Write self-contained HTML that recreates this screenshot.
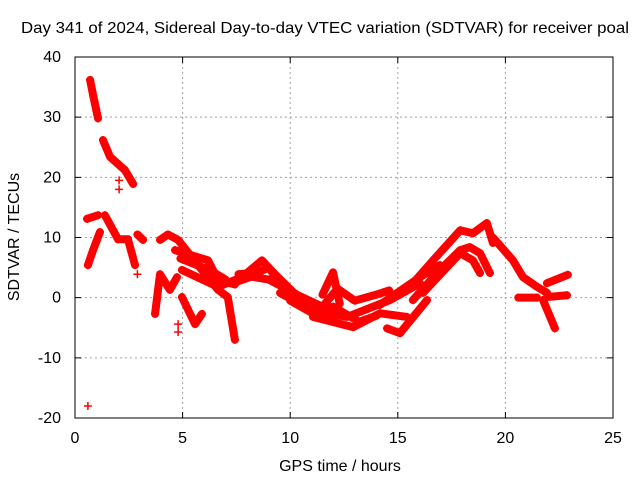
<!DOCTYPE html>
<html><head><meta charset="utf-8"><style>
html,body{margin:0;padding:0;background:#fff}
svg text{font-family:"Liberation Sans",sans-serif;font-size:16px;fill:#000}
</style></head><body>
<svg id="chart" width="640" height="480" xmlns="http://www.w3.org/2000/svg">
<text x="325" y="33" text-anchor="middle" textLength="608" lengthAdjust="spacingAndGlyphs">Day 341 of 2024, Sidereal Day-to-day VTEC variation (SDTVAR) for receiver poal</text>
<text x="340" y="471" text-anchor="middle">GPS time / hours</text>
<text transform="translate(19,237) rotate(-90)" text-anchor="middle">SDTVAR / TECUs</text>
<g id="grid"></g>
<g id="ticks"></g>
<g id="series"></g>
<rect x="75" y="57" width="538" height="361" fill="none" stroke="#000" stroke-width="1"/>
</svg>
<script>
const xTicks=[0,5,10,15,20,25];
const yTicks=[-20,-10,0,10,20,30,40];
// tracks: [hour, SDTVAR]
const trackA=[[0.7,36.2],[0.85,33.5],[1.07,29.8]];
const trackB=[[1.3,26.2],[1.63,23.4],[2.32,21.2],[2.7,18.9]];
const trackC=[[0.6,5.4],[0.85,8.0],[1.16,10.9]];
const trackD=[[0.56,13.1],[1.07,13.7]];
const trackE=[[1.39,13.7],[2.0,9.7],[2.46,9.7],[2.79,5.4]];
const trackE2=[[2.9,10.5],[3.16,9.6]];
const trackF=[[3.72,-2.7],[3.95,3.9],[4.41,1.3],[4.74,3.4]];
const trackG=[[3.95,9.6],[4.32,10.5],[4.79,9.6],[5.44,6.7],[5.9,4.6],[6.65,1.3],[7.1,0.1],[7.43,-7]];
const trackH=[[4.65,7.9],[6.18,6.2],[6.65,2.9],[7.43,2.2]];
const trackH2=[[4.9,6.5],[5.6,5.5],[6.3,4.5],[7.0,3.0]];
const trackI=[[4.97,0.1],[5.58,-4.4],[5.9,-2.7]];
const trackJ=[[4.97,4.6],[6.65,1.8],[7.76,3.4],[8.69,6.2],[9.29,3.9],[10.69,-1.0]];
const trackJ2=[[7.6,3.9],[8.5,4.2],[9.0,5.0],[9.5,2.5],[10.3,0.5],[11.5,-1.5],[12.2,1.5],[13.0,-0.5],[14.0,0.5],[14.6,1.2]];
const trackJ3=[[10.0,-0.5],[11.0,-2.5],[12.0,-1.5],[13.2,-4.0],[14.0,-3.0]];
const trackJ4=[[7.4,2.5],[8.2,3.5],[9.0,3.0],[9.8,1.5],[10.5,0.0]];
const trackK=[[11.5,0.5],[11.99,4.2],[12.3,-1.0]];
const trackL1=[[9.53,0.8],[10.92,-2.0],[12.64,-3.2],[14.64,-0.4],[16.03,2.4]];
const trackL2=[[11.06,-3.2],[12.92,-4.9],[14.17,-2.6],[15.43,-3.2]];
const trackL3=[[14.5,-5.1],[15.1,-5.9],[16.36,-0.4]];
const trackR1=[[15.43,1.3],[16.64,6.2],[17.9,11.2],[18.49,10.7],[19.14,12.4],[19.42,9.1]];
const trackR2=[[15.7,-0.4],[16.96,4.6],[17.9,7.9],[18.35,8.4],[18.82,7.4],[19.28,4.1]];
const trackR3=[[16.17,0.8],[17.29,5.1],[17.9,7.4],[18.49,6.2],[18.82,4.1]];
const trackR4=[[14.17,-1.2],[16.03,3.4],[16.96,5.4]];
const trackS=[[19.42,10.0],[20.35,6.2],[20.82,3.4],[21.47,1.8],[21.93,0.8]];
const trackS2=[[20.6,0.0],[21.47,0.0]];
const trackS3=[[21.75,-0.4],[22.3,-5.1]];
const trackS4=[[21.93,2.4],[22.9,3.8]];
const trackS5=[[21.93,0.1],[22.86,0.4]];
const isolated=[[0.6,-18],[2.05,19.5],[2.05,18.0],[2.9,3.9],[4.79,-4.4],[4.79,-5.7]];
const tracks=[trackA,trackB,trackC,trackD,trackE,trackE2,trackF,trackG,trackH,trackH2,trackI,trackJ,trackJ2,trackJ3,trackJ4,trackK,trackL1,trackL2,trackL3,trackR1,trackR2,trackR3,trackR4,trackS,trackS2,trackS3,trackS4,trackS5];

const X0=75,X1=613,Y0=418,Y1=57;
const xs=v=>X0+(v-0)/25*(X1-X0);
const ys=v=>Y0-(v+20)/60*(Y0-Y1);
const NS="http://www.w3.org/2000/svg";
function mk(t,a,p){const e=document.createElementNS(NS,t);for(const k in a)e.setAttribute(k,a[k]);p.appendChild(e);return e;}
const grid=document.getElementById('grid'),ticks=document.getElementById('ticks'),ser=document.getElementById('series');
xTicks.forEach(t=>{const x=xs(t);
 if(t>0&&t<25){const g=mk('line',{x1:x,x2:x,y1:Y1,y2:Y0,stroke:'#a0a0a0','stroke-dasharray':'2,3'},grid);
 
 }
 const tl=mk('path',{d:`M${x},${Y0}v-6M${x},${Y1}v6`,stroke:'#000'},ticks);
 
 
 const tx=mk('text',{x:x,y:443,'text-anchor':'middle'},ticks);tx.textContent=t;
 
 });
yTicks.forEach(t=>{const y=ys(t);
 if(t>-20&&t<40){const g=mk('line',{x1:X0,x2:X1,y1:y,y2:y,stroke:'#a0a0a0','stroke-dasharray':'2,3'},grid);
 
 }
 const tl=mk('path',{d:`M${X0},${y}h6M${X1},${y}h-6`,stroke:'#000'},ticks);
 
 
 const tx=mk('text',{x:61,y:y+5,'text-anchor':'end'},ticks);tx.textContent=t;
 
 });
function plus(x,y,name){const p=mk('path',{d:`M${x-4},${y}h8M${x},${y-4}v8`,stroke:'#f00','stroke-width':1.5},ser);
 
 }
tracks.forEach((tr,i)=>{
 const pl=mk('polyline',{points:tr.map(p=>xs(p[0])+','+ys(p[1])).join(' '),fill:'none',stroke:'#f00','stroke-width':8,'stroke-linejoin':'round','stroke-linecap':'round'},ser);
 
 
 tr.forEach(p=>plus(xs(p[0]),ys(p[1]),'track-point'));});
isolated.forEach(p=>plus(xs(p[0]),ys(p[1]),'isolated-point'));
</script>
</body></html>
